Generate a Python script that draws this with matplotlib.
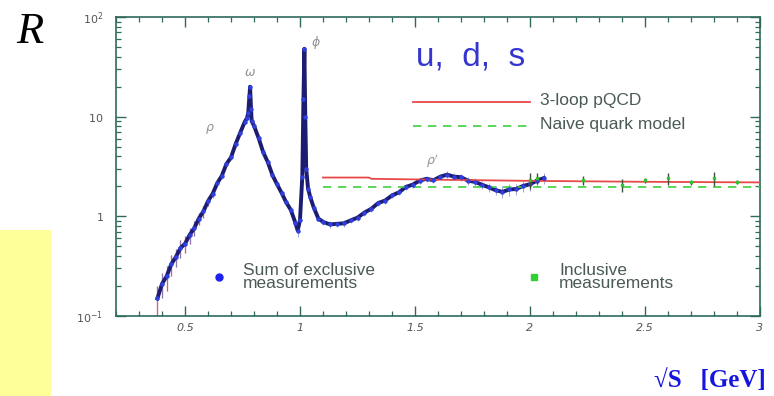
import matplotlib
matplotlib.use("Agg")
import matplotlib.pyplot as plt
from matplotlib.patches import Rectangle
from matplotlib.ticker import FixedLocator, FixedFormatter, MultipleLocator, LogLocator, NullFormatter

excl_x = [0.38, 0.40, 0.42, 0.44, 0.46, 0.48, 0.50, 0.52, 0.54, 0.56, 0.58, 0.60,
          0.62, 0.64, 0.66, 0.68, 0.70, 0.72, 0.74, 0.76, 0.77, 0.775, 0.78, 0.783,
          0.787, 0.79, 0.80, 0.82, 0.84, 0.86, 0.88, 0.90, 0.92, 0.94, 0.96, 0.98,
          0.99, 1.00, 1.01, 1.015, 1.019, 1.023, 1.027, 1.035, 1.045, 1.06, 1.08,
          1.10, 1.13, 1.16, 1.19, 1.22, 1.25, 1.28, 1.31, 1.34, 1.37, 1.40, 1.43,
          1.46, 1.49, 1.52, 1.55, 1.58, 1.61, 1.64, 1.67, 1.70, 1.73, 1.76, 1.79,
          1.82, 1.85, 1.88, 1.91, 1.94, 1.97, 2.00, 2.03, 2.06]
excl_R = [0.15, 0.21, 0.25, 0.33, 0.39, 0.48, 0.53, 0.65, 0.76, 0.95, 1.12, 1.42,
          1.68, 2.15, 2.55, 3.35, 3.9, 5.3, 6.9, 8.9, 9.7, 11.0, 16.0, 20.0,
          12.0, 9.0, 8.1, 6.1, 4.4, 3.5, 2.6, 2.1, 1.72, 1.38, 1.16, 0.86,
          0.72, 0.92, 2.5, 15.0, 48.0, 10.0, 3.0, 1.9, 1.55, 1.22, 0.95,
          0.88, 0.83, 0.84, 0.85, 0.91, 0.97, 1.09, 1.19, 1.36, 1.44, 1.62, 1.74,
          1.97, 2.08, 2.28, 2.38, 2.3, 2.5, 2.62, 2.5, 2.47, 2.28, 2.22, 2.08,
          1.96, 1.83, 1.76, 1.86, 1.88, 2.02, 2.1, 2.28, 2.42]
excl_err = [0.05, 0.06, 0.07, 0.08, 0.08, 0.1, 0.1, 0.12, 0.13, 0.14, 0.15, 0.15,
            0.15, 0.2, 0.2, 0.2, 0.2, 0.3, 0.3, 0.3, 0.3, 0.3, 0.5, 0.5,
            0.5, 0.3, 0.3, 0.2, 0.2, 0.15, 0.1, 0.1, 0.08, 0.08, 0.06, 0.06,
            0.1, 0.1, 0.3, 1.0, 2.0, 0.5, 0.2, 0.1, 0.1, 0.08, 0.06,
            0.06, 0.06, 0.06, 0.06, 0.06, 0.07, 0.08, 0.08, 0.1, 0.1, 0.1, 0.12,
            0.12, 0.14, 0.15, 0.15, 0.15, 0.15, 0.2, 0.2, 0.2, 0.2, 0.2, 0.2,
            0.2, 0.2, 0.25, 0.25, 0.25, 0.25, 0.3, 0.3, 0.3]

# inclusive measurements
incl_x = [2.00, 2.03, 2.23, 2.40, 2.50, 2.60, 2.70, 2.80, 2.90]
incl_R = [2.3, 2.4, 2.3, 2.05, 2.3, 2.4, 2.2, 2.4, 2.2]
incl_err = [0.4, 0.3, 0.25, 0.3, 0.15, 0.35, 0.12, 0.4, 0.1]

# theory curves
pqcd_x = [1.10, 1.30, 1.31, 1.60, 2.00, 2.50, 3.00]
pqcd_R = [2.45, 2.45, 2.38, 2.33, 2.27, 2.22, 2.19]
naive_x = [1.10, 3.00]
naive_R = [1.95, 1.95]

# resonance labels
res_names = [r"$\rho$", r"$\omega$", r"$\phi$", r"$\rho'$"]
res_x = [0.61, 0.783, 1.07, 1.575]
res_y = [7.6, 27.5, 55.0, 3.6]

xtick_vals = [0.5, 1, 1.5, 2, 2.5, 3]
xtick_labels = ["0.5", "1", "1.5", "2", "2.5", "3"]
ytick_vals = [0.1, 1, 10, 100]
ytick_labels = [r"$\mathit{10}^{\mathit{-1}}$", r"$\mathit{1}$", r"$\mathit{10}$", r"$\mathit{10}^{\mathit{2}}$"]

frame_col = "#2f6a5c"
text_col = "#4a5a55"

fig = plt.figure(figsize=(7.74, 3.96), dpi=100)
fig.patch.set_facecolor("white")

# yellow box at lower left
fig.patches.append(Rectangle((0, 0), 51 / 774, 166 / 396, transform=fig.transFigure,
                             facecolor="#ffff99", edgecolor="none", zorder=0))

ax = fig.add_axes([116 / 774, 80 / 396, 644 / 774, 299 / 396])
ax.set_yscale("log")
ax.set_xlim(0.2, 3.0)
ax.set_ylim(0.1, 100)

# exclusive data: error bars (light) + thick dark curve with blue dots
low = [i for i, x in enumerate(excl_x) if x < 0.62]
ax.errorbar([excl_x[i] for i in low], [excl_R[i] for i in low],
            yerr=[excl_err[i] for i in low], fmt="none", ecolor="#d080a0",
            elinewidth=1.0, capsize=0, zorder=2)
ax.errorbar(excl_x, excl_R, yerr=excl_err, fmt="none", ecolor="#6070c0",
            elinewidth=0.7, capsize=0, zorder=2, alpha=0.6)
ax.plot(excl_x, excl_R, color="#1c1c70", lw=2.8, zorder=3)
ax.plot(excl_x, excl_R, "o", color="#3040e0", ms=2.2, zorder=4)

# theory
ax.plot(pqcd_x, pqcd_R, color="#e84848", lw=1.3, zorder=3)
ax.plot(naive_x, naive_R, color="#40d040", lw=1.2, ls=(0, (5, 4)), zorder=3)

# inclusive data
ax.errorbar(incl_x, incl_R, yerr=incl_err, fmt="s", color="#30c030", ms=2,
            ecolor="#405040", elinewidth=1.0, capsize=0, zorder=4)

for name, x, y in zip(res_names, res_x, res_y):
    ax.text(x, y, name, color="#909090", fontsize=9, ha="center", va="center")

# legend-like annotations
ax.plot([0.461, 0.643], [0.716, 0.716], color="#e84848", lw=1.3, transform=ax.transAxes)
ax.plot([0.461, 0.643], [0.635, 0.635], color="#40d040", lw=1.2, ls=(0, (5, 4)),
        transform=ax.transAxes)
ax.text(0.658, 0.722, "3-loop pQCD", transform=ax.transAxes, fontsize=12.5,
        color=text_col, va="center", family="Liberation Sans")
ax.text(0.658, 0.640, "Naive quark model", transform=ax.transAxes, fontsize=12.5,
        color=text_col, va="center", family="Liberation Sans")
ax.text(0.55, 0.865, "u,  d,  s", transform=ax.transAxes, fontsize=24,
        color="#3535d0", ha="center", va="center", family="Liberation Sans")

ax.plot([0.16], [0.13], "o", color="#2020f0", ms=5, transform=ax.transAxes)
ax.text(0.197, 0.13, "Sum of exclusive\nmeasurements", transform=ax.transAxes,
        fontsize=12.5, color=text_col, va="center", linespacing=0.85, family="Liberation Sans")
ax.plot([0.649], [0.13], "s", color="#30d030", ms=5, transform=ax.transAxes)
ax.text(0.688, 0.13, "Inclusive\nmeasurements", transform=ax.transAxes,
        fontsize=12.5, color=text_col, va="center", linespacing=0.85, family="Liberation Sans")

# ticks
ax.xaxis.set_major_locator(FixedLocator(xtick_vals))
ax.xaxis.set_major_formatter(FixedFormatter(xtick_labels))
ax.xaxis.set_minor_locator(MultipleLocator(0.1))
ax.yaxis.set_major_locator(FixedLocator(ytick_vals))
ax.yaxis.set_major_formatter(FixedFormatter(ytick_labels))
ax.yaxis.set_minor_locator(LogLocator(base=10, subs=range(2, 10)))
ax.yaxis.set_minor_formatter(NullFormatter())
ax.tick_params(which="both", direction="in", top=True, right=True, color=frame_col,
               labelcolor="#555555")
ax.tick_params(which="major", length=7, width=1.0, labelsize=8)
ax.tick_params(which="minor", length=3.5, width=0.9)
ax.tick_params(axis="x", pad=5)
ax.tick_params(axis="y", pad=9)
for lab in ax.get_xticklabels():
    lab.set_style("italic")
for sp in ax.spines.values():
    sp.set_color(frame_col)
    sp.set_linewidth(1.2)

# R and sqrt(s) labels
fig.text(30 / 774, 1 - 32 / 396, "R", fontsize=32, style="italic",
         family=["Liberation Serif", "DejaVu Serif"], ha="center", va="center")
fig.text(766 / 774, 1 - 381 / 396, "\u221aS   [GeV]", fontsize=18, weight="bold",
         color="#1515e0", family=["Liberation Serif", "DejaVu Serif"],
         ha="right", va="center")

fig.savefig("out.png", dpi=100)
